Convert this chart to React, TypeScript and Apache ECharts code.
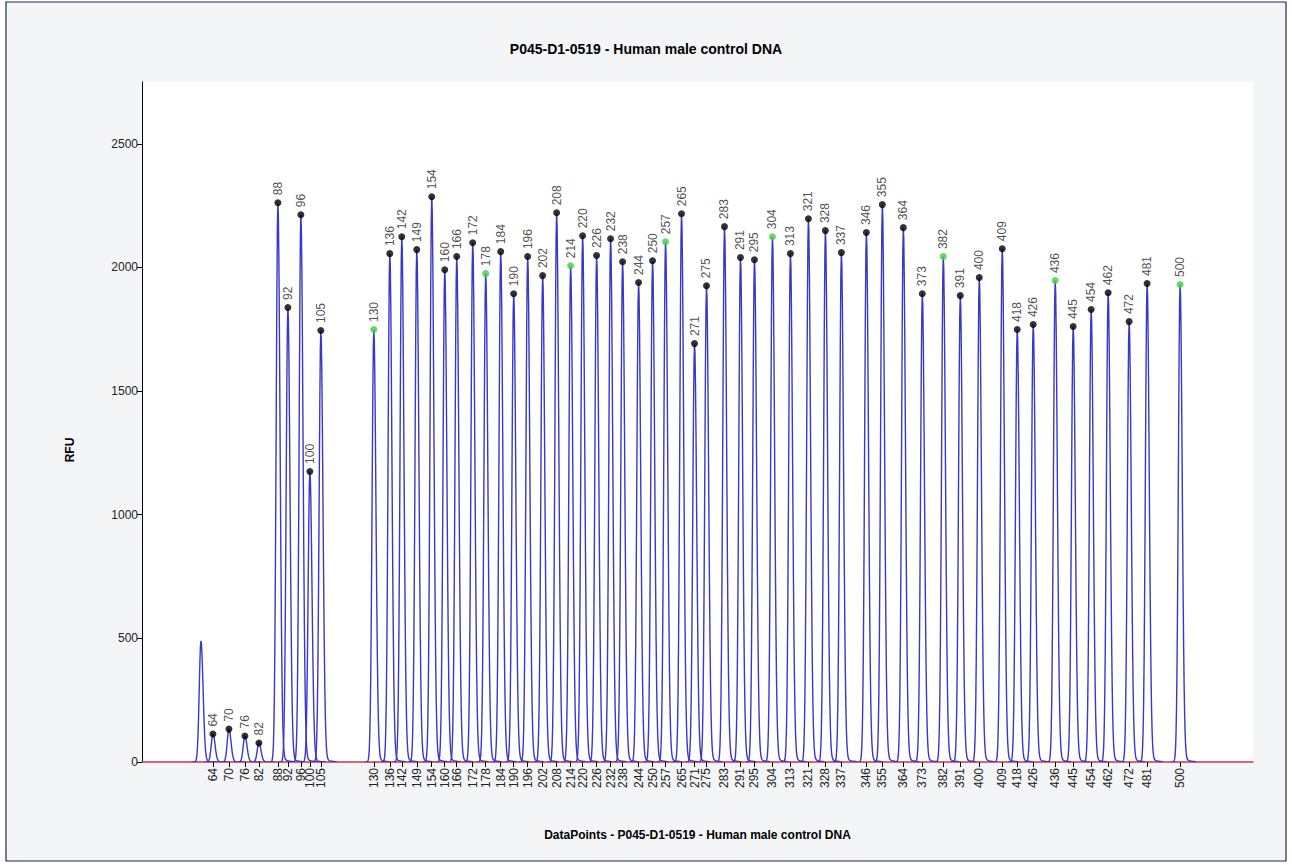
import React, { useEffect, useRef } from "react";
import * as echarts from "echarts";

// Fragment sizes (bp) of the labelled peaks
const sizes = [64, 70, 76, 82, 88, 92, 96, 100, 105, 130, 136, 142, 149, 154, 160, 166, 172, 178, 184, 190, 196, 202, 208, 214, 220, 226, 232, 238, 244, 250, 257, 265, 271, 275, 283, 291, 295, 304, 313, 321, 328, 337, 346, 355, 364, 373, 382, 391, 400, 409, 418, 426, 436, 445, 454, 462, 472, 481, 500];
// Peak positions in data points
const positions = [355, 435, 515, 585, 680, 730, 795, 840, 895, 1160, 1240, 1300, 1375, 1450, 1515, 1575, 1655, 1720, 1795, 1860, 1930, 2005, 2075, 2145, 2205, 2275, 2345, 2405, 2485, 2555, 2620, 2700, 2765, 2825, 2915, 2995, 3065, 3155, 3245, 3335, 3420, 3500, 3625, 3705, 3810, 3905, 4010, 4095, 4190, 4305, 4380, 4460, 4570, 4660, 4750, 4835, 4940, 5030, 5195];
// Peak heights (RFU)
const heights = [113, 133, 105, 77, 2262, 1838, 2213, 1175, 1745, 1749, 2056, 2124, 2072, 2286, 1991, 2044, 2100, 1975, 2064, 1894, 2044, 1967, 2221, 2007, 2128, 2048, 2116, 2023, 1939, 2027, 2104, 2217, 1692, 1926, 2165, 2040, 2031, 2124, 2056, 2197, 2149, 2060, 2141, 2254, 2161, 1894, 2044, 1886, 1959, 2076, 1749, 1769, 1947, 1761, 1830, 1898, 1781, 1935, 1931];
// Sizes marked green (reference peaks)
const greenSizes = [130, 178, 214, 257, 304, 382, 436, 500];
// Unlabelled peak(s)
const unlabelledPositions = [295];
const unlabelledHeights = [490];

const yTicks = [0, 500, 1000, 1500, 2000, 2500];

const FONT = "'Liberation Sans', Arial, sans-serif";

export default function App() {
  const ref = useRef<HTMLDivElement>(null);
  useEffect(() => {
    if (!ref.current) return;
    const chart = echarts.init(ref.current, undefined, { renderer: "svg" });
    const labelMap = new Map<number, string>();
    positions.forEach((p, i) => labelMap.set(p, String(sizes[i])));

    const peakData = positions.map((p, i) => [p, heights[i]]).concat(
      unlabelledPositions.map((p, i) => [p, unlabelledHeights[i]])
    );
    const markerData = positions.map((p, i) => ({
      value: [p, heights[i], sizes[i]],
      itemStyle: { color: greenSizes.includes(sizes[i]) ? "#3fcf3f" : "#000000" },
    }));

    const option: any = {
      animation: false,
      backgroundColor: "transparent",
      graphic: [
        {
          type: "rect",
          z: -10,
          shape: { x: 6, y: 2, width: 1280, height: 859 },
          style: { fill: "#f4f5f7", stroke: "#1c2b50", lineWidth: 1.2 },
        },
        {
          type: "text",
          x: 70,
          y: 450,
          rotation: Math.PI / 2,
          style: {
            text: "RFU",
            font: `bold 12px ${FONT}`,
            fill: "#000",
            align: "center",
            verticalAlign: "middle",
          },
        },
      ],
      title: {
        text: "P045-D1-0519 - Human male control DNA",
        left: "center",
        top: 37,
        textStyle: { fontFamily: FONT, fontWeight: "bold", fontSize: 14, color: "#000" },
      },
      grid: {
        left: 142,
        right: 39,
        top: 82,
        bottom: 103,
        show: true,
        backgroundColor: "#ffffff",
        borderWidth: 0,
      },
      xAxis: {
        type: "value",
        min: 0,
        max: 5560,
        name: "DataPoints - P045-D1-0519 - Human male control DNA",
        nameLocation: "middle",
        nameGap: 67,
        nameTextStyle: { fontFamily: FONT, fontWeight: "bold", fontSize: 12, color: "#000" },
        axisLine: { show: true, onZero: false, lineStyle: { color: "#d2304e", width: 1.5 } },
        axisTick: { show: true, customValues: positions, length: 5, lineStyle: { color: "#000" } },
        axisLabel: {
          customValues: positions,
          rotate: 90,
          margin: 6,
          fontFamily: FONT,
          fontSize: 12,
          color: "#222",
          formatter: (v: number) => labelMap.get(v) ?? "",
        },
        splitLine: { show: false },
      },
      yAxis: {
        type: "value",
        min: 0,
        max: 2750,
        interval: 500,
        axisLine: { show: true, lineStyle: { color: "#000", width: 1 } },
        axisTick: { show: true, customValues: yTicks, length: 5, lineStyle: { color: "#000" } },
        axisLabel: {
          customValues: yTicks,
          fontFamily: FONT,
          fontSize: 12,
          color: "#222",
          margin: 4,
          formatter: (v: number) => String(v),
        },
        splitLine: { show: false },
      },
      series: [
        {
          type: "custom",
          data: peakData,
          clip: true,
          z: 2,
          renderItem: (params: any, api: any) => {
            const x = api.value(0);
            const h = api.value(1);
            const base = api.coord([x, 0]);
            const top = api.coord([x, h]);
            const H = base[1] - top[1];
            const pts: number[][] = [];
            for (let t = -9; t <= 16; t += 0.5) {
              const s = t < 0 ? 1.7 : 2.1;
              let v = H * Math.exp(-(t * t) / (2 * s * s));
              if (t > 0) v += H * 0.016 * Math.exp(-t / 5) * (1 - Math.exp(-t / 1.5));
              pts.push([base[0] + t, base[1] - v]);
            }
            return {
              type: "polyline",
              shape: { points: pts },
              style: { stroke: "#3838cc", fill: "none", lineWidth: 1.4 },
            };
          },
        },
        {
          type: "scatter",
          data: markerData,
          symbol: "circle",
          symbolSize: 7,
          z: 3,
          encode: { x: 0, y: 1 },
          label: {
            show: true,
            position: "top",
            distance: 4,
            rotate: 90,
            align: "left",
            verticalAlign: "middle",
            fontFamily: FONT,
            fontSize: 12,
            color: "#222",
            formatter: (p: any) => String(p.value[2]),
          },
        },
      ],
    };
    chart.setOption(option);
    return () => chart.dispose();
  }, []);
  return (
    <div
      ref={ref}
      style={{ position: "absolute", left: 0, top: 0, width: 1292, height: 865 }}
    />
  );
}
